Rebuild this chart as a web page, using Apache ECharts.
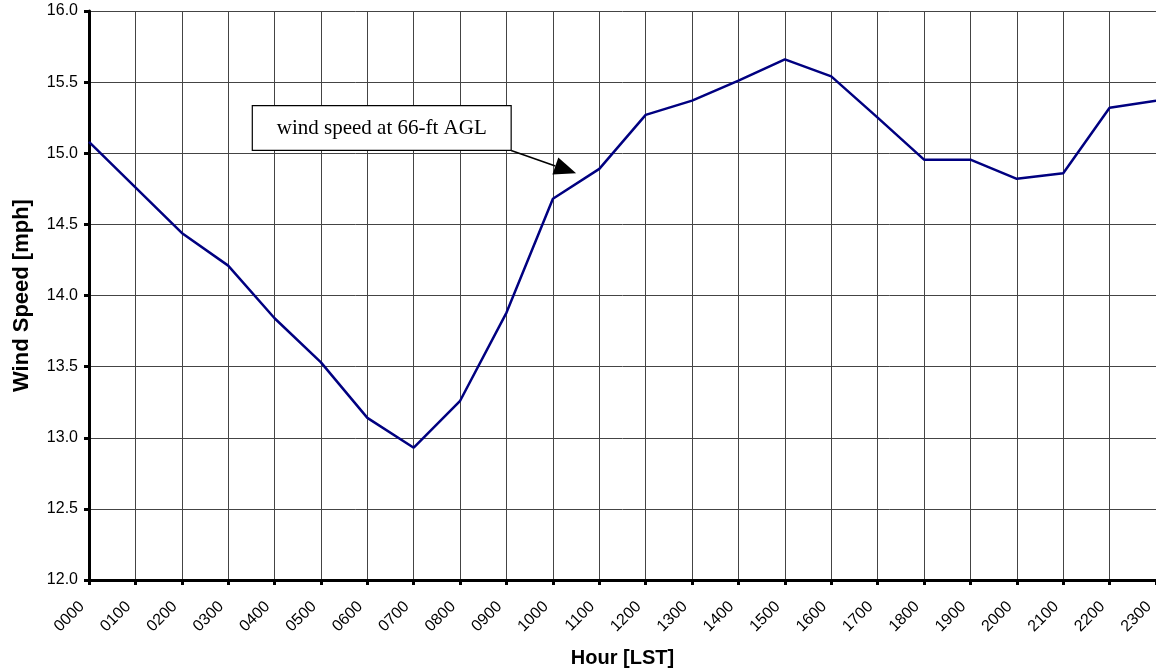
<!DOCTYPE html>
<html><head><meta charset="utf-8">
<script src="https://cdn.jsdelivr.net/npm/echarts@6/dist/echarts.min.js"></script>
<style>html,body{margin:0;padding:0;background:#fff;overflow:hidden}#c{width:1156px;height:671px}</style>
</head><body><div id="c"></div>
<script>
const hours = ['0000','0100','0200','0300','0400','0500','0600','0700','0800','0900','1000','1100','1200','1300','1400','1500','1600','1700','1800','1900','2000','2100','2200','2300'];
const windSpeed = [15.08,14.76,14.44,14.21,13.84,13.53,13.14,12.93,13.26,13.88,14.68,14.89,15.27,15.37,15.51,15.66,15.54,15.25,14.955,14.955,14.82,14.86,15.32,15.37];
const yTicks = {min:12, max:16, interval:0.5};
const annotationText = 'wind speed at 66-ft AGL';

const chart = echarts.init(document.getElementById('c'), null, {renderer:'canvas'});
chart.setOption({
  animation:false,
  grid:{left:89, right:0, top:11, bottom:91, containLabel:false, outerBoundsMode:'none'},
  xAxis:{
    type:'category', data:hours, boundaryGap:false,
    axisLine:{show:true, lineStyle:{color:'#000', width:3}},
    axisTick:{show:true, alignWithLabel:true, length:5, lineStyle:{color:'#000', width:3}},
    axisLabel:{rotate:45, fontFamily:'Arial, Liberation Sans', fontSize:16, color:'#000', margin:17, padding:[0,10,0,0], interval:0},
    splitLine:{show:true, lineStyle:{color:'#444', width:1}},
    name:'Hour [LST]', nameLocation:'middle', nameGap:68,
    nameTextStyle:{fontFamily:'Arial, Liberation Sans', fontSize:20, fontWeight:'bold', color:'#000'}
  },
  yAxis:{
    type:'value', min:yTicks.min, max:yTicks.max, interval:yTicks.interval,
    axisLine:{show:true, lineStyle:{color:'#000', width:3}},
    axisTick:{show:true, length:5, lineStyle:{color:'#000', width:3}},
    axisLabel:{fontFamily:'Arial, Liberation Sans', fontSize:16, color:'#000', margin:11,
      formatter:v=>v.toFixed(1)},
    splitLine:{show:true, lineStyle:{color:'#444', width:1}},
    name:'Wind Speed [mph]', nameLocation:'middle', nameGap:56, nameRotate:90,
    nameTextStyle:{fontFamily:'Arial, Liberation Sans', fontSize:22, fontWeight:'bold', color:'#000'}
  },
  series:[{
    type:'line', data:windSpeed, symbol:'none',
    lineStyle:{color:'#000080', width:2.5}
  }]
});

// annotation anchored in data coordinates
const px = i => { const a = chart.convertToPixel({xAxisIndex:0}, 0), b = chart.convertToPixel({xAxisIndex:0}, 1); return a + (b-a)*i; };
const py = v => chart.convertToPixel({yAxisIndex:0}, v);
const bx0 = px(3.52), by0 = py(15.335), bx1 = px(9.1), by1 = py(15.02);
const tipX = px(10.5), tipY = py(14.86);
const sx = bx1, sy = by1;
const ang = Math.atan2(tipY-sy, tipX-sx);
const hl = 22, hw = 9;
const baseX = tipX - hl*Math.cos(ang), baseY = tipY - hl*Math.sin(ang);
const nx = -Math.sin(ang), ny = Math.cos(ang);
chart.setOption({graphic:[
  {type:'rect', shape:{x:bx0, y:by0, width:bx1-bx0, height:by1-by0}, style:{fill:'#fff', stroke:'#000', lineWidth:1.2}, z:100},
  {type:'text', x:(bx0+bx1)/2, y:(by0+by1)/2, style:{text:annotationText, font:'21px "Liberation Serif", "Times New Roman", serif', fill:'#000', align:'center', verticalAlign:'middle'}, z:101},
  {type:'line', shape:{x1:sx, y1:sy, x2:baseX, y2:baseY}, style:{stroke:'#000', lineWidth:1.6}, z:100},
  {type:'polygon', shape:{points:[[tipX,tipY],[baseX+nx*hw, baseY+ny*hw],[baseX-nx*hw, baseY-ny*hw]]}, style:{fill:'#000'}, z:100}
]});
</script></body></html>
